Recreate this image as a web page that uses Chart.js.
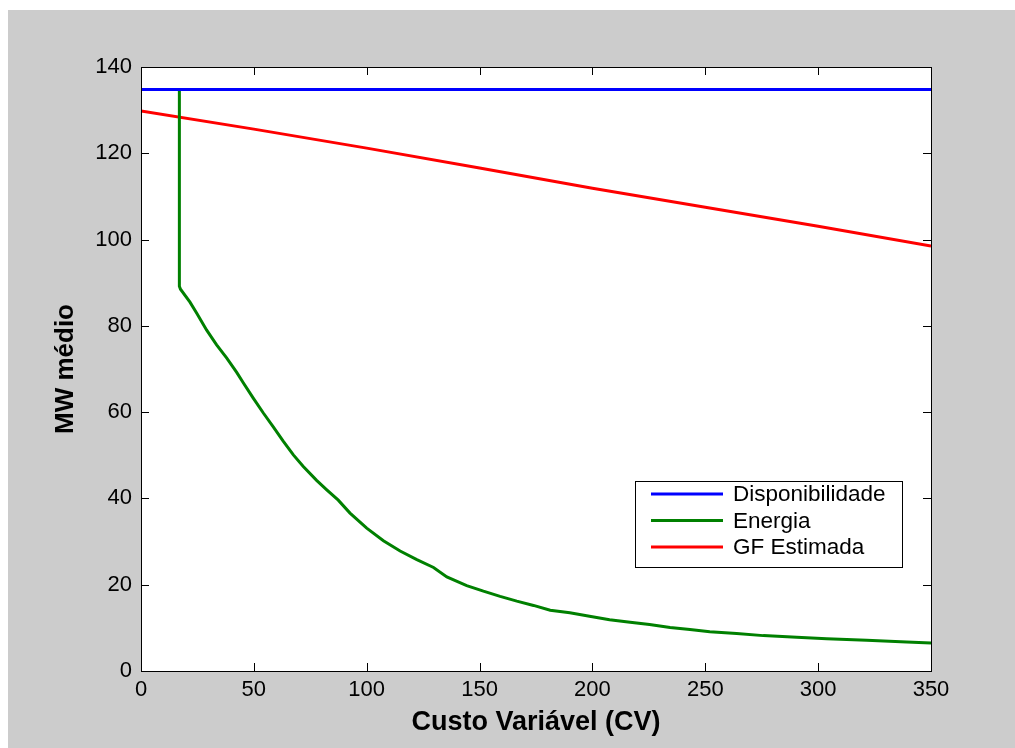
<!DOCTYPE html>
<html>
<head>
<meta charset="utf-8">
<script src="https://cdn.jsdelivr.net/npm/chart.js@4"></script>
<style>
  html, body { margin: 0; padding: 0; background: #fff; }
  canvas { display: block; }
</style>
</head>
<body>
<canvas id="mwChart" width="1015" height="748"></canvas>
<script>
// dados
const xDisp = [0, 350];
const disponibilidade = [134.8, 134.8];

const xEnergia = [0, 17, 17, 17.5, 21.7, 24.7, 29.1, 33.5, 38, 42.4, 45.3, 49.8, 54.2, 58.6, 63, 67.5,
  71.9, 77.8, 82.3, 87.4, 92.6, 100, 107.4, 114.8, 122.2, 129.6, 135.5, 144.3, 151.7, 159.1, 166.5,
  173.9, 181.3, 190, 198.7, 207.6, 216.7, 225.3, 234.4, 243.2, 252, 263.9, 275.7, 290.5, 303.8, 321.5, 339.2, 350];
const energia = [134.8, 134.8, 89.2, 88.5, 85.5, 82.9, 79, 75.6, 72.5, 69.2, 66.8, 63.2, 59.8, 56.6, 53.3, 50.1,
  47.4, 44.2, 42, 39.6, 36.6, 33.1, 30.2, 27.8, 25.8, 24, 21.8, 19.8, 18.5, 17.3, 16.2,
  15.2, 14.1, 13.5, 12.7, 11.9, 11.3, 10.8, 10.1, 9.6, 9.1, 8.7, 8.2, 7.8, 7.5, 7.1, 6.7, 6.5];

const xGF = [0, 50, 100, 150, 200, 250, 300, 350];
const gfEstimada = [129.8, 125.6, 121.2, 116.6, 111.9, 107.5, 103.1, 98.5];

const xTicks = [0, 50, 100, 150, 200, 250, 300, 350];
const yTicks = [0, 20, 40, 60, 80, 100, 120, 140];

function pontos(xs, ys) {
  return xs.map((x, i) => ({ x: x, y: ys[i] }));
}

// fundo cinza, caixa dos eixos, marcas internas e legenda estilo matlab
const matlabPlugin = {
  id: 'matlab',
  beforeDraw(chart) {
    const c = chart.ctx;
    const a = chart.chartArea;
    c.save();
    c.fillStyle = '#ffffff';
    c.fillRect(0, 0, chart.width, chart.height);
    c.fillStyle = '#cccccc';
    c.fillRect(8, 10, chart.width - 8, chart.height - 10);
    c.fillStyle = '#ffffff';
    c.fillRect(a.left, a.top, a.right - a.left, a.bottom - a.top);
    c.restore();
  },
  afterDraw(chart) {
    const c = chart.ctx;
    const a = chart.chartArea;
    const xs = chart.scales.x, ys = chart.scales.y;
    c.save();
    c.strokeStyle = '#000';
    c.lineWidth = 1;
    c.beginPath();
    xTicks.forEach(v => {
      const p = Math.round(xs.getPixelForValue(v)) + 0.5;
      c.moveTo(p, a.bottom); c.lineTo(p, a.bottom - 8);
      c.moveTo(p, a.top); c.lineTo(p, a.top + 8);
    });
    yTicks.forEach(v => {
      const p = Math.round(ys.getPixelForValue(v)) + 0.5;
      c.moveTo(a.left, p); c.lineTo(a.left + 8, p);
      c.moveTo(a.right, p); c.lineTo(a.right - 8, p);
    });
    c.stroke();
    c.strokeRect(a.left + 0.5, a.top + 0.5, a.right - a.left, a.bottom - a.top);

    // legenda
    const lx = 635.5, ly = 481.5, lw = 267, lh = 86;
    c.fillStyle = '#fff';
    c.fillRect(lx, ly, lw, lh);
    c.strokeRect(lx, ly, lw, lh);
    c.font = '22.5px "Liberation Sans", Arial, sans-serif';
    c.textBaseline = 'middle';
    chart.data.datasets.forEach((ds, i) => {
      const y = 494 + i * 26.5;
      c.strokeStyle = ds.borderColor;
      c.lineWidth = 3;
      c.beginPath();
      c.moveTo(651, y); c.lineTo(723, y);
      c.stroke();
      c.fillStyle = '#000';
      c.fillText(ds.label, 733, y + 1);
    });
    c.restore();
  }
};

Chart.defaults.font.family = '"Liberation Sans", Arial, sans-serif';
Chart.defaults.color = '#000';

new Chart(document.getElementById('mwChart'), {
  type: 'line',
  data: {
    datasets: [{
      label: 'Disponibilidade',
      data: pontos(xDisp, disponibilidade),
      borderColor: '#0000ff',
      borderWidth: 3
    }, {
      label: 'Energia',
      data: pontos(xEnergia, energia),
      borderColor: '#008000',
      borderWidth: 3
    }, {
      label: 'GF Estimada',
      data: pontos(xGF, gfEstimada),
      borderColor: '#ff0000',
      borderWidth: 3
    }]
  },
  options: {
    responsive: false,
    animation: false,
    elements: { point: { radius: 0 }, line: { tension: 0 } },
    layout: { padding: { left: 0, top: 67, right: 84, bottom: 0 } },
    plugins: {
      legend: { display: false },
      tooltip: { enabled: false }
    },
    scales: {
      x: {
        type: 'linear',
        min: 0,
        max: 350,
        afterBuildTicks: s => { s.ticks = xTicks.map(v => ({ value: v })); },
        afterFit: s => { s.height = 77; },
        grid: { display: false, drawTicks: false },
        border: { display: false },
        ticks: { padding: 6, font: { size: 22 }, maxRotation: 0, autoSkip: false },
        title: {
          display: true,
          text: 'Custo Variável (CV)',
          font: { size: 27, weight: 'bold' },
          padding: { top: 0, bottom: 9 }
        }
      },
      y: {
        type: 'linear',
        min: 0,
        max: 140,
        afterBuildTicks: s => { s.ticks = yTicks.map(v => ({ value: v })); },
        afterFit: s => { s.width = 141; },
        grid: { display: false, drawTicks: false },
        border: { display: false },
        ticks: { padding: 9, font: { size: 22 }, autoSkip: false },
        title: {
          display: true,
          text: 'MW médio',
          font: { size: 26, weight: 'bold' },
          padding: { top: 50, bottom: 0 }
        }
      }
    }
  },
  plugins: [matlabPlugin]
});
</script>
</body>
</html>
